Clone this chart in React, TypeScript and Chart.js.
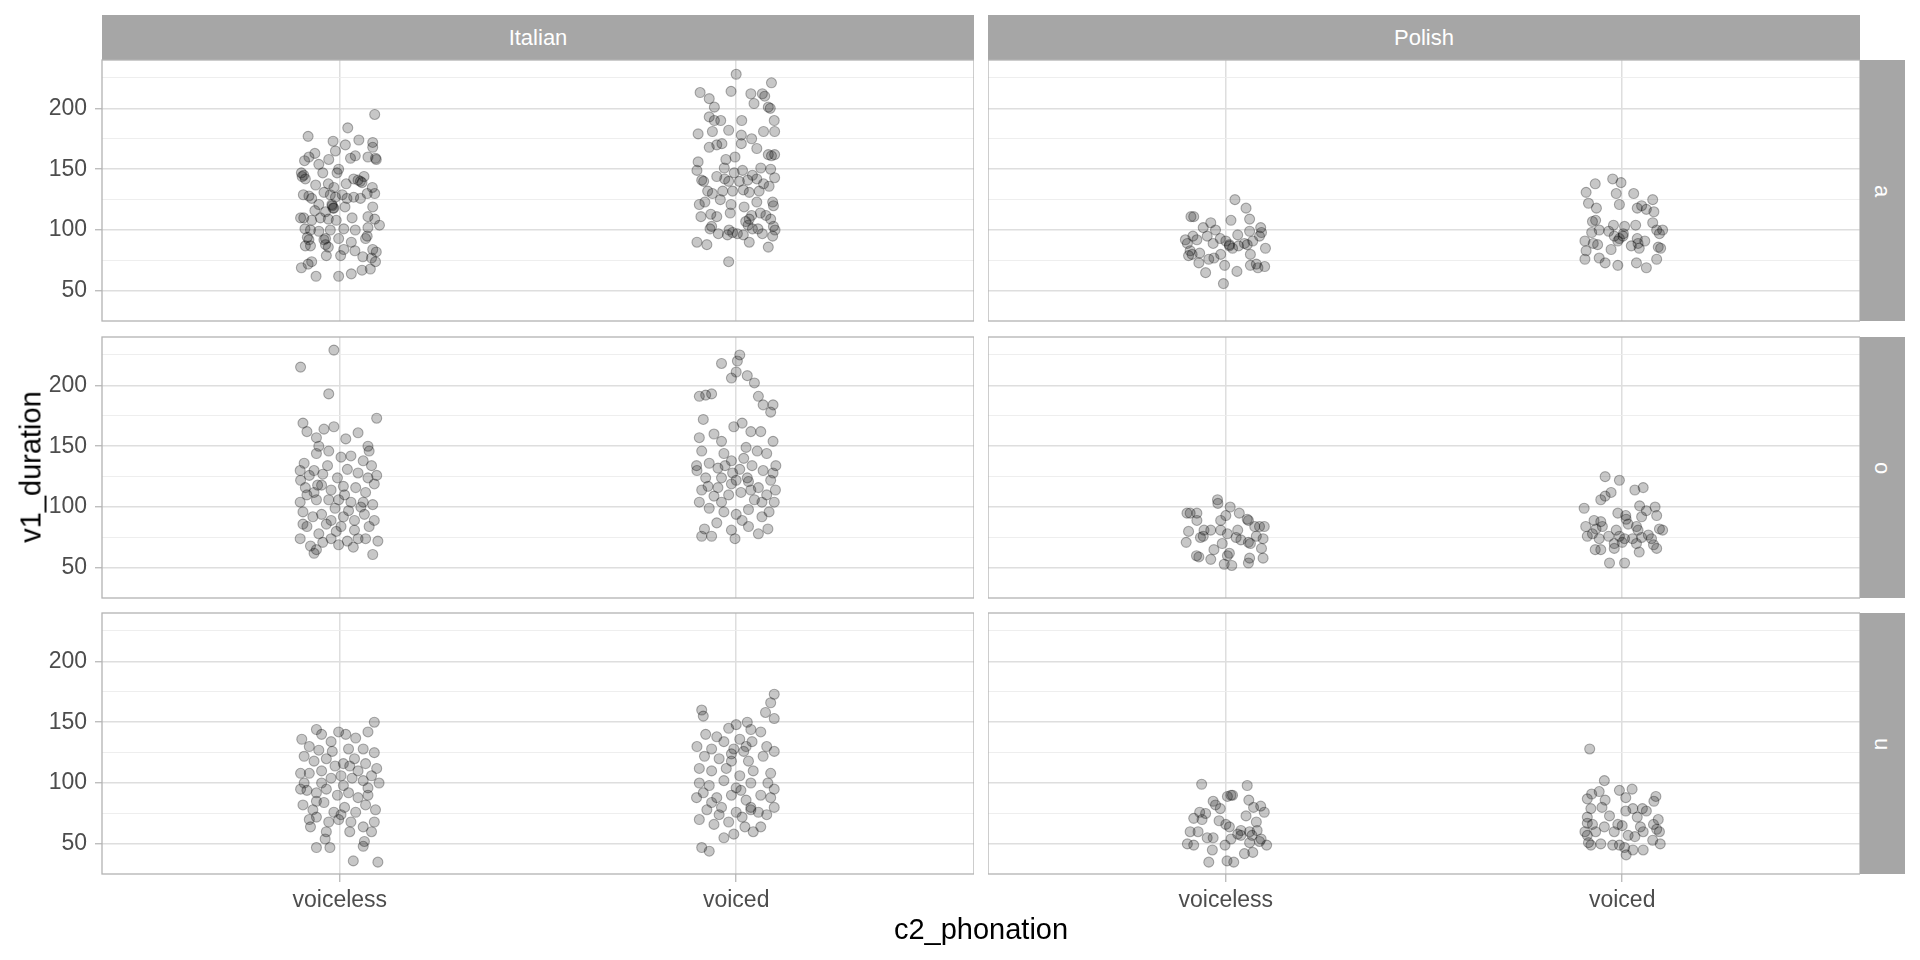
import { useEffect, useRef } from "react";
import { Chart, registerables } from "chart.js";

Chart.register(...registerables);
Chart.defaults.font.family = "'Liberation Sans', Arial, Helvetica, sans-serif";

const languages = ["Italian", "Polish"];
const vowels = ["a", "o", "u"];
const phonations = ["voiceless", "voiced"];
const yMajorTicks = [50, 100, 150, 200];
const yMinorTicks = [75, 125, 175, 225];
const yLimits = [25.25, 239.75];

// each point: [horizontal jitter, v1_duration]
const italianAVoiceless = [
  [0.088, 195], [0.02, 184], [-0.08, 177], [-0.017, 173], [0.014, 170], [0.048, 174], [0.083, 172], [0.083, 168],
  [-0.063, 163], [-0.011, 165], [-0.078, 160], [-0.089, 157], [-0.028, 158], [0.027, 159], [0.039, 161], [0.071, 160],
  [0.092, 158], [-0.053, 154], [-0.003, 150], [-0.007, 147], [-0.097, 147], [-0.091, 145], [-0.087, 142], [-0.043, 147],
  [0.061, 144], [0.052, 140], [0.035, 142], [0.016, 138], [-0.061, 137], [-0.029, 138], [-0.015, 135], [0.082, 135],
  [-0.092, 129], [-0.078, 128], [-0.071, 126], [-0.04, 131], [-0.024, 129], [-0.011, 127], [0.006, 129], [0.018, 126],
  [0.035, 127], [0.052, 126], [0.069, 130], [0.088, 130], [-0.019, 120], [-0.017, 118], [-0.053, 121], [0.013, 119],
  [0.083, 119], [-0.063, 116], [-0.036, 115], [-0.099, 110], [-0.091, 110], [-0.071, 108], [-0.049, 110], [-0.029, 109],
  [-0.009, 108], [0.031, 110], [0.071, 111], [0.088, 109], [0.1, 104], [-0.088, 101], [-0.074, 100], [-0.053, 99],
  [-0.024, 100], [0.01, 101], [0.039, 100], [0.071, 102], [-0.082, 94], [-0.078, 92], [-0.04, 92], [-0.003, 93],
  [0.029, 90], [0.065, 93], [-0.087, 87], [-0.074, 87], [-0.036, 88], [-0.029, 86], [0.01, 84], [0.038, 83],
  [0.083, 84], [0.092, 82], [-0.034, 79], [0.002, 79], [0.058, 78], [0.08, 77], [0.09, 74], [-0.071, 74],
  [-0.08, 72], [-0.097, 69], [0.077, 68], [0.056, 67], [0.029, 64], [-0.06, 62], [-0.003, 62], [-0.02, 121],
  [-0.015, 118], [0.046, 141], [0.056, 139], [-0.095, 144], [0.09, 159], [-0.036, 93], [0.069, 95],
];

const italianAVoiced = [
  [0, 228], [0.089, 221], [-0.091, 213], [-0.013, 214], [-0.068, 208], [0.037, 212], [0.045, 204], [0.066, 212],
  [0.072, 210], [0.081, 201], [0.086, 200], [-0.055, 201], [-0.068, 193], [-0.055, 190], [-0.039, 190], [0.014, 190],
  [0.096, 190], [-0.096, 179], [-0.06, 181], [-0.019, 182], [0.013, 178], [0.069, 181], [0.097, 181], [-0.068, 168],
  [-0.049, 170], [-0.036, 171], [0.013, 171], [0.039, 175], [0.052, 167], [0.081, 162], [0.089, 161], [0.097, 162],
  [-0.096, 156], [-0.026, 158], [-0.003, 160], [-0.099, 149], [-0.03, 151], [0.016, 149], [0.062, 151], [0.087, 150],
  [-0.087, 141], [-0.082, 140], [-0.049, 144], [-0.029, 142], [-0.019, 140], [-0.005, 147], [0.008, 140], [0.029, 141],
  [0.041, 145], [0.052, 142], [0.069, 138], [0.097, 143], [0.083, 136], [-0.072, 132], [-0.06, 130], [-0.034, 132],
  [-0.009, 132], [0.018, 133], [0.033, 131], [0.058, 132], [-0.093, 121], [-0.079, 123], [-0.04, 125], [-0.013, 121],
  [0.02, 119], [0.052, 123], [0.092, 123], [0.094, 120], [-0.089, 111], [-0.064, 113], [-0.049, 111], [-0.015, 114],
  [0.039, 112], [0.061, 114], [0.075, 112], [0.087, 109], [-0.062, 103], [-0.066, 101], [-0.045, 97], [-0.018, 100],
  [-0.009, 98], [0.003, 97], [0.024, 107], [0.033, 109], [0.03, 104], [0.041, 101], [0.055, 101], [0.066, 97],
  [0.094, 103], [0.098, 100], [0.018, 96], [-0.022, 96], [-0.099, 90], [-0.074, 88], [0.033, 90], [0.081, 86],
  [0.092, 95], [-0.019, 74],
];

const italianOVoiceless = [
  [-0.099, 215], [-0.015, 229], [-0.028, 193], [0.093, 173], [-0.093, 169], [-0.083, 162], [-0.059, 157], [-0.04, 164],
  [-0.015, 166], [0.046, 161], [0.015, 156], [-0.053, 150], [0.071, 150], [0.074, 146], [-0.059, 144], [-0.028, 146],
  [0.003, 141], [0.028, 142], [0.059, 138], [0.08, 134], [-0.09, 136], [-0.065, 130], [-0.1, 130], [-0.077, 126],
  [-0.043, 127], [-0.006, 124], [0.019, 131], [0.046, 128], [0.071, 124], [0.093, 126], [-0.099, 122], [-0.046, 118],
  [-0.022, 114], [0.009, 117], [0.04, 116], [0.065, 112], [0.087, 119], [-0.083, 110], [-0.059, 106], [-0.028, 106],
  [-0.003, 106], [0.028, 104], [0.059, 104], [0.083, 102], [-0.093, 96], [-0.068, 92], [-0.046, 94], [-0.022, 89],
  [0.009, 92], [0.037, 89], [0.062, 94], [0.087, 89], [-0.083, 84], [-0.053, 78], [-0.009, 80], [0.037, 81],
  [0.065, 74], [0.096, 72], [-0.074, 68], [-0.065, 62], [-0.059, 65], [-0.043, 71], [-0.022, 74], [0.019, 72],
  [0.034, 67], [0.083, 61], [0.003, 84], [-0.034, 86], [-0.1, 104], [-0.087, 116], [0.053, 100], [0.022, 97],
  [-0.031, 134], [-0.056, 118], [0.074, 84], [0.046, 74], [-0.003, 69], [-0.1, 74], [-0.093, 86], [-0.065, 112],
  [-0.012, 99], [0.012, 110],
];

const italianOVoiced = [
  [0.009, 225], [0.003, 220], [-0.037, 218], [0.028, 208], [0, 211], [-0.012, 206], [0.046, 202], [0.056, 191],
  [-0.077, 192], [-0.062, 193], [-0.093, 191], [0.068, 184], [0.087, 178], [0.093, 184], [-0.083, 172], [0.015, 169],
  [-0.006, 166], [0.037, 162], [0.062, 162], [-0.056, 160], [-0.093, 157], [-0.037, 154], [0.093, 154], [-0.087, 146],
  [-0.031, 144], [0.025, 149], [0.053, 146], [0.077, 144], [-0.068, 136], [-0.046, 132], [-0.012, 138], [0.019, 140],
  [0.04, 134], [0.068, 130], [0.093, 128], [-0.099, 130], [-0.077, 124], [-0.037, 124], [0, 122], [0.031, 121],
  [0.056, 116], [0.087, 122], [-0.087, 114], [-0.056, 109], [-0.019, 110], [0.012, 112], [0.046, 106], [0.077, 110],
  [0.096, 104], [-0.093, 104], [-0.068, 99], [-0.031, 96], [0, 94], [0.031, 98], [0.065, 92], [0.083, 96],
  [-0.08, 82], [-0.087, 76], [-0.062, 76], [-0.012, 81], [-0.003, 74], [0.031, 84], [0.056, 78], [0.08, 82],
  [-0.049, 87], [0.015, 89], [-0.037, 104], [-0.012, 119], [0.037, 114], [-0.071, 117], [-0.046, 116], [-0.009, 128],
  [0.065, 104], [0.009, 131], [0.028, 124], [-0.028, 134], [-0.1, 134], [0.1, 134], [0.099, 114],
];

const italianUVoiceless = [
  [0.087, 150], [-0.059, 144], [-0.096, 136], [-0.046, 140], [-0.003, 142], [0.015, 140], [0.04, 137], [0.071, 142],
  [-0.022, 134], [-0.077, 130], [-0.053, 127], [0.022, 128], [0.059, 128], [0.087, 125], [-0.09, 122], [-0.065, 118],
  [-0.034, 120], [-0.012, 114], [0.009, 116], [0.037, 120], [0.065, 116], [0.093, 112], [-0.099, 108], [-0.077, 108],
  [-0.046, 110], [-0.022, 104], [0.003, 106], [0.031, 104], [0.059, 102], [0.08, 106], [0.099, 100], [-0.083, 94],
  [-0.059, 92], [-0.034, 95], [-0.006, 90], [0.022, 92], [0.046, 88], [0.071, 90], [-0.093, 82], [-0.068, 78],
  [-0.04, 84], [-0.015, 76], [0.012, 80], [0.04, 76], [0.065, 82], [0.09, 78], [-0.077, 70], [-0.059, 72],
  [-0.028, 68], [-0.003, 70], [0.028, 68], [0.059, 64], [0.08, 60], [-0.037, 54], [-0.025, 47], [-0.059, 47],
  [0.062, 52], [0.034, 36], [0.096, 35], [0.003, 74], [-0.046, 100], [-0.099, 95], [0.009, 98], [0.071, 96],
  [-0.059, 85], [0.046, 110], [-0.019, 126], [0.025, 114], [-0.074, 64], [0.087, 68], [-0.034, 60], [0.025, 60],
  [-0.09, 100], [0.059, 48],
];

const italianUVoiced = [
  [0.096, 173], [0.087, 166], [0.074, 158], [-0.087, 160], [-0.083, 155], [0.096, 153], [0.028, 150], [0, 148],
  [-0.019, 145], [0.037, 144], [0.062, 142], [-0.077, 140], [-0.049, 138], [0.009, 136], [0.04, 134], [-0.031, 134],
  [-0.099, 130], [-0.062, 128], [-0.006, 128], [0.019, 126], [0.077, 130], [0.096, 126], [-0.08, 122], [-0.043, 120],
  [-0.012, 118], [0.031, 118], [0.068, 122], [-0.093, 112], [-0.062, 110], [-0.025, 112], [0.009, 106], [0.043, 110],
  [0.087, 108], [-0.093, 100], [-0.068, 98], [-0.031, 102], [0, 96], [0.037, 100], [0.08, 100], [0.096, 95],
  [-0.083, 92], [-0.049, 88], [-0.012, 90], [0.025, 86], [0.062, 90], [0.087, 88], [-0.074, 78], [-0.043, 74],
  [0, 76], [0.037, 78], [0.077, 74], [0.096, 80], [-0.093, 70], [-0.056, 66], [-0.019, 68], [0.022, 64],
  [0.043, 60], [-0.006, 58], [-0.087, 47], [-0.068, 44], [-0.037, 80], [0.012, 94], [0.056, 76], [0.062, 64],
  [-0.062, 84], [-0.1, 88], [-0.012, 124], [0.025, 130], [0.037, 80], [-0.031, 55], [0.015, 72],
];

const polishAVoiceless = [
  [0.023, 125], [0.051, 118], [-0.088, 111], [-0.081, 111], [-0.038, 106], [0.013, 108], [0.06, 109], [-0.057, 102],
  [-0.026, 100], [0.088, 102], [0.06, 99], [-0.083, 95], [-0.102, 92], [-0.097, 89], [-0.073, 92], [-0.047, 95],
  [-0.032, 89], [-0.014, 93], [0, 91], [0.009, 87], [0.017, 85], [0.032, 87], [0.03, 96], [0.047, 89],
  [0.054, 88], [0.068, 91], [0.085, 95], [0.09, 98], [0.1, 85], [-0.094, 79], [-0.085, 80], [-0.066, 81],
  [-0.068, 73], [-0.043, 76], [-0.03, 77], [-0.013, 80], [-0.003, 71], [0.062, 80], [0.077, 72], [0.081, 69],
  [0.098, 70], [0.062, 71], [-0.051, 65], [0.028, 66], [-0.006, 56], [-0.09, 83], [0.009, 88],
];

const polishAVoiced = [
  [-0.024, 142], [-0.003, 139], [-0.068, 138], [-0.091, 131], [-0.015, 130], [0.029, 130], [0.077, 125], [-0.085, 122],
  [-0.065, 118], [-0.007, 121], [0.038, 118], [0.049, 120], [0.061, 117], [0.08, 115], [-0.075, 107], [-0.067, 108],
  [-0.022, 104], [0.006, 103], [0.034, 104], [0.077, 106], [0.087, 100], [0.102, 100], [-0.077, 98], [-0.058, 100],
  [-0.034, 99], [-0.02, 95], [-0.007, 93], [0.003, 97], [0.038, 93], [0.094, 97], [-0.094, 91], [-0.073, 89],
  [-0.062, 88], [-0.028, 84], [-0.011, 91], [0.023, 87], [0.043, 85], [0.057, 91], [0.091, 86], [-0.091, 83],
  [-0.094, 76], [-0.058, 77], [-0.043, 73], [-0.011, 71], [0.036, 73], [0.061, 69], [0.087, 76], [0.097, 85],
  [0.04, 89], [0.002, 95],
];

const polishOVoiceless = [
  [-0.021, 106], [-0.02, 103], [0.011, 100], [-0.098, 95], [-0.09, 95], [-0.073, 95], [-0.073, 89], [0.034, 95],
  [0.054, 90], [0.057, 89], [0, 93], [-0.013, 89], [0.085, 84], [0.097, 84], [0.03, 81], [-0.094, 80],
  [-0.064, 75], [-0.057, 76], [-0.038, 81], [-0.013, 81], [0.004, 78], [0.026, 75], [0.038, 73], [0.062, 70],
  [0.057, 71], [0.077, 76], [0.094, 74], [-0.1, 71], [-0.009, 70], [-0.03, 65], [0.09, 66], [-0.074, 60],
  [-0.068, 59], [-0.038, 57], [0.004, 60], [0.06, 58], [0.094, 58], [-0.004, 53], [0.015, 52], [0.057, 54],
  [0.009, 62], [-0.055, 81], [0.073, 84],
];

const polishOVoiced = [
  [-0.043, 125], [-0.007, 122], [0.032, 114], [0.053, 116], [-0.054, 106], [-0.043, 109], [-0.028, 112], [-0.096, 99],
  [-0.011, 95], [0.009, 93], [0.044, 101], [0.061, 97], [0.083, 100], [0.049, 92], [0.087, 93], [-0.071, 89],
  [-0.054, 88], [-0.092, 84], [-0.066, 82], [-0.05, 84], [-0.015, 81], [0.015, 86], [0.036, 84], [0.04, 81],
  [0.094, 82], [0.102, 81], [-0.088, 76], [-0.075, 78], [-0.058, 74], [-0.034, 76], [-0.007, 76], [0.006, 74],
  [0.026, 74], [0.049, 75], [0.074, 74], [0.066, 77], [-0.02, 70], [0, 71], [0.036, 70], [0.079, 69],
  [0.087, 66], [-0.068, 65], [-0.054, 65], [-0.02, 66], [0.043, 63], [-0.032, 54], [0.006, 54], [0.01, 90],
];

const polishUVoiceless = [
  [-0.061, 99], [0.054, 98], [0.004, 89], [0.013, 90], [0.017, 90], [-0.032, 85], [0.058, 86], [-0.026, 82],
  [-0.014, 79], [-0.066, 76], [-0.051, 75], [0.088, 81], [0.097, 76], [0.051, 73], [-0.081, 71], [-0.06, 70],
  [0.07, 80], [0.077, 68], [-0.017, 69], [0, 66], [0.009, 64], [-0.07, 60], [-0.09, 60], [0.03, 58],
  [0.038, 57], [0.06, 60], [0.066, 57], [0.079, 61], [0.089, 54], [-0.047, 55], [-0.032, 55], [0.013, 54],
  [0.06, 51], [0.085, 52], [-0.097, 50], [-0.081, 49], [-0.002, 49], [0.103, 49], [-0.034, 45], [0.047, 42],
  [0.068, 43], [-0.043, 35], [0.003, 36], [0.02, 35], [0.038, 61],
];

const polishUVoiced = [
  [-0.082, 128], [-0.045, 102], [-0.007, 94], [0.025, 95], [-0.077, 91], [-0.058, 93], [0.009, 88], [0.085, 89],
  [-0.088, 87], [-0.043, 86], [0.08, 85], [-0.079, 79], [-0.051, 80], [0.009, 77], [0.027, 79], [0.051, 79],
  [0.061, 77], [-0.032, 73], [-0.088, 72], [0.038, 72], [0.091, 70], [-0.088, 67], [-0.075, 66], [-0.011, 66],
  [0, 65], [-0.045, 64], [0.079, 66], [0.087, 62], [0.046, 64], [-0.094, 60], [-0.088, 57], [-0.067, 60],
  [-0.02, 60], [0.015, 57], [0.032, 56], [0.053, 60], [0.094, 60], [-0.079, 49], [-0.054, 50], [-0.024, 49],
  [-0.007, 49], [0.006, 47], [0.027, 45], [0.053, 45], [0.077, 53], [0.096, 50], [0.01, 41], [-0.085, 51],
];

// rows follow vowels, columns follow languages, inner pair follows phonations
const panelSeries = [
  [[italianAVoiceless, italianAVoiced], [polishAVoiceless, polishAVoiced]],
  [[italianOVoiceless, italianOVoiced], [polishOVoiceless, polishOVoiced]],
  [[italianUVoiceless, italianUVoiced], [polishUVoiceless, polishUVoiced]],
];

const PANEL_LEFT = [102, 988];
const PANEL_TOP = [60, 337, 613];
const PANEL_W = 872;
const PANEL_H = 261;
const Y_AXIS_W = 102;
const X_AXIS_H = 52;
const PAD = 22;
const STRIP_H = 45;
const STRIP_W = 45;
const STRIP_FILL = "#a6a6a6";

const panelBorder = {
  id: "panelBorder",
  afterDraw(chart: any) {
    const { ctx, chartArea: a } = chart;
    ctx.save();
    ctx.strokeStyle = "#b3b3b3";
    ctx.lineWidth = 1.3;
    ctx.strokeRect(a.left, a.top, a.right - a.left, a.bottom - a.top);
    ctx.restore();
  },
};

function Panel({ row, col }: { row: number; col: number }) {
  const canvasRef = useRef<HTMLCanvasElement | null>(null);
  const isLeft = col === 0;
  const isBottom = row === vowels.length - 1;
  const width = PANEL_W + (isLeft ? Y_AXIS_W : 0);
  const height = PANEL_H + PAD + (isBottom ? X_AXIS_H : PAD);

  useEffect(() => {
    if (!canvasRef.current) return;
    const points = panelSeries[row][col].flatMap((group, gi) =>
      group.map(([jitter, dur]) => ({ x: gi + 1 + jitter, y: dur })),
    );
    const isMajor = (v: number) => yMajorTicks.includes(v);

    const chart = new Chart(canvasRef.current, {
      type: "scatter",
      data: {
        datasets: [
          {
            data: points,
            pointRadius: 5,
            pointHoverRadius: 5,
            borderWidth: 1.1,
            backgroundColor: "rgba(0,0,0,0.22)",
            borderColor: "rgba(0,0,0,0.3)",
          },
        ],
      },
      options: {
        responsive: false,
        animation: false,
        events: [],
        layout: { autoPadding: false, padding: { top: PAD, bottom: isBottom ? 0 : PAD, left: 0, right: 0 } },
        plugins: { legend: { display: false }, tooltip: { enabled: false } },
        scales: {
          x: {
            type: "linear",
            min: 0.4,
            max: 2.6,
            afterBuildTicks: (s: any) => {
              s.ticks = phonations.map((_, i) => ({ value: i + 1 }));
            },
            afterFit: (s: any) => {
              s.height = isBottom ? X_AXIS_H : 0;
            },
            ticks: {
              display: isBottom,
              autoSkip: false,
              maxRotation: 0,
              padding: 5,
              color: "#4d4d4d",
              font: { size: 23 },
              callback: (v: any) => phonations[Number(v) - 1] ?? "",
            },
            grid: {
              color: "#dedede",
              lineWidth: 1.5,
              drawTicks: isBottom,
              tickLength: 8,
              tickColor: "#b3b3b3",
              tickWidth: 1.2,
            },
            border: { display: false },
          },
          y: {
            type: "linear",
            min: yLimits[0],
            max: yLimits[1],
            afterBuildTicks: (s: any) => {
              s.ticks = [...yMajorTicks, ...yMinorTicks].sort((a, b) => a - b).map((v) => ({ value: v }));
            },
            afterFit: (s: any) => {
              s.width = isLeft ? Y_AXIS_W : 0;
            },
            ticks: {
              display: isLeft,
              autoSkip: false,
              padding: 8,
              color: "#4d4d4d",
              font: { size: 23 },
              callback: (v: any) => (isMajor(Number(v)) ? String(v) : ""),
            },
            grid: {
              color: (c: any) => (isMajor(c.tick?.value) ? "#dedede" : "#ececec"),
              lineWidth: (c: any) => (isMajor(c.tick?.value) ? 1.5 : 0.9),
              drawTicks: isLeft,
              tickLength: 7,
              tickColor: (c: any) => (isMajor(c.tick?.value) ? "#b3b3b3" : "rgba(0,0,0,0)"),
              tickWidth: 1.2,
            },
            border: { display: false },
          },
        },
      },
      plugins: [panelBorder],
    });
    return () => chart.destroy();
  }, [row, col]);

  return (
    <canvas
      ref={canvasRef}
      width={width}
      height={height}
      style={{
        position: "absolute",
        left: PANEL_LEFT[col] - (isLeft ? Y_AXIS_W : 0),
        top: PANEL_TOP[row] - PAD,
        width,
        height,
      }}
    />
  );
}

export default function App() {
  const font = "'Liberation Sans', Arial, Helvetica, sans-serif";
  return (
    <div
      style={{
        position: "fixed",
        left: 0,
        top: 0,
        width: 1920,
        height: 960,
        background: "#ffffff",
        overflow: "hidden",
        fontFamily: font,
      }}
    >
      {languages.map((lang, c) => (
        <div
          key={lang}
          style={{
            position: "absolute",
            left: PANEL_LEFT[c],
            top: PANEL_TOP[0] - STRIP_H,
            width: PANEL_W,
            height: STRIP_H,
            background: STRIP_FILL,
            color: "#ffffff",
            fontSize: 22,
            display: "flex",
            alignItems: "center",
            justifyContent: "center",
          }}
        >
          {lang}
        </div>
      ))}
      {vowels.map((v, r) => (
        <div
          key={v}
          style={{
            position: "absolute",
            left: PANEL_LEFT[1] + PANEL_W,
            top: PANEL_TOP[r],
            width: STRIP_W,
            height: PANEL_H,
            background: STRIP_FILL,
            color: "#ffffff",
            fontSize: 22,
            display: "flex",
            alignItems: "center",
            justifyContent: "center",
          }}
        >
          <span style={{ display: "inline-block", transform: "rotate(90deg)" }}>{v}</span>
        </div>
      ))}
      {vowels.map((v, r) =>
        languages.map((lang, c) => <Panel key={`${v}-${lang}`} row={r} col={c} />),
      )}
      <div
        style={{
          position: "absolute",
          left: PANEL_LEFT[0],
          width: PANEL_LEFT[1] + PANEL_W - PANEL_LEFT[0],
          top: 913,
          textAlign: "center",
          fontSize: 29,
          color: "#000000",
        }}
      >
        c2_phonation
      </div>
      <div
        style={{
          position: "absolute",
          left: 31,
          top: (PANEL_TOP[0] + PANEL_TOP[2] + PANEL_H) / 2,
          transform: "translate(-50%, -50%) rotate(-90deg)",
          fontSize: 29,
          color: "#000000",
          whiteSpace: "nowrap",
        }}
      >
        v1_duration
      </div>
    </div>
  );
}
